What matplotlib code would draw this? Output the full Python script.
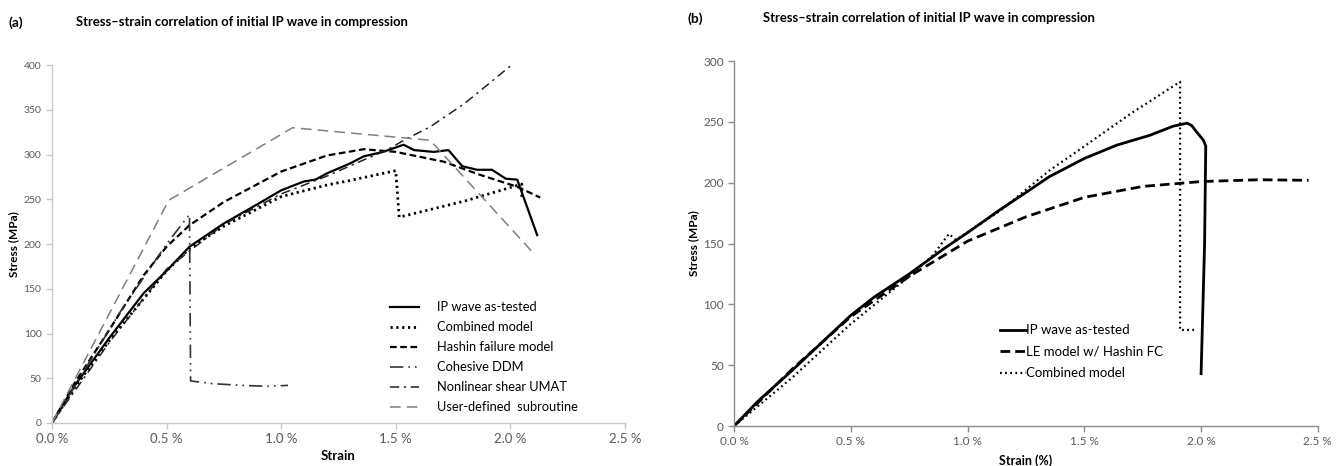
import matplotlib
matplotlib.use("Agg")
import matplotlib.pyplot as plt

plt.rcParams['font.family'] = ['Lato', 'DejaVu Sans']

# ---------------- Panel (a) data (strain in %, stress in MPa) ----------------
a_test_x = [0, 0.1, 0.25, 0.4, 0.5, 0.6, 0.75, 0.9, 1.0, 1.1, 1.15, 1.2, 1.3, 1.36, 1.445,
            1.534, 1.58, 1.665, 1.73, 1.79, 1.855, 1.92, 1.98, 2.03, 2.117]
a_test_y = [0, 42, 95, 145, 170, 197, 223, 245, 260, 270, 272, 279, 290, 298, 303,
            311, 305, 303, 305, 287, 283, 283, 273, 272, 210]

a_comb_x = [0, 0.1, 0.25, 0.5, 0.6, 0.75, 1.0, 1.2, 1.3, 1.5, 1.515, 1.8, 2.05, 2.05]
a_comb_y = [0, 40, 92, 170, 195, 220, 253, 266, 271, 282, 230, 248, 267, 250]

a_hash_x = [0, 0.1, 0.25, 0.4, 0.5, 0.6, 0.75, 1.0, 1.2, 1.36, 1.5, 1.71, 1.86, 2.03, 2.13]
a_hash_y = [0, 45, 104, 165, 197, 221, 247, 281, 299, 306, 303, 292, 278, 264, 252]

a_coh_x = [0, 0.3, 0.5, 0.6, 0.605, 0.7, 0.83, 0.94, 1.03]
a_coh_y = [0, 125, 200, 233, 47, 44, 42, 41, 42]

a_umat_x = [0, 0.25, 0.5, 0.75, 1.0, 1.2, 1.36, 1.46, 1.55, 1.65, 1.8, 1.91, 2.0]
a_umat_y = [0, 90, 172, 222, 256, 276, 294, 305, 318, 331, 357, 380, 399]

a_user_x = [0, 0.51, 1.05, 1.65, 2.1]
a_user_y = [0, 249, 330, 316, 190]

a_labels = ["IP wave as-tested", "Combined model", "Hashin failure model",
            "Cohesive DDM", "Nonlinear shear UMAT", "User-defined  subroutine"]

# ---------------- Panel (b) data ----------------
b_test_x = [0, 0.1, 0.25, 0.4, 0.5, 0.6, 0.75, 0.9, 1.0, 1.14, 1.25, 1.35, 1.5, 1.64,
            1.78, 1.88, 1.94, 1.96, 1.98, 2.01, 2.02, 2.015, 2.0]
b_test_y = [0, 20, 46, 73, 91, 106, 125, 146, 159, 178, 192, 205, 220, 231,
            239, 246.5, 249, 247, 242, 235, 230, 150, 43]

b_le_x = [0, 0.25, 0.5, 0.75, 1.0, 1.25, 1.5, 1.75, 2.0, 2.25, 2.46]
b_le_y = [0, 47, 90, 123, 152, 172, 188, 197, 201, 202.5, 202]

b_comb_x = [0, 0.25, 0.5, 0.75, 0.85, 0.92, 0.95, 1.14, 1.35, 1.5, 1.7, 1.91, 1.91, 1.97]
b_comb_y = [0, 40, 84, 123, 140, 158, 153, 177, 210, 230, 257, 283, 79, 79]

b_labels = ["IP wave as-tested", "LE model w/ Hashin FC", "Combined model"]

xticks = [0, 0.5, 1.0, 1.5, 2.0, 2.5]
xticklabels = [f"{v:.1f} %" for v in xticks]

title = "Stress\u2013strain correlation of initial IP wave in compression"

fig = plt.figure(figsize=(13.42, 4.66), dpi=100)

tick_col = "#595959"

def style(ax, spine_col):
    for s in ("top", "right"):
        ax.spines[s].set_visible(False)
    for s in ("left", "bottom"):
        ax.spines[s].set_color(spine_col)
        ax.spines[s].set_linewidth(1.0)
    ax.tick_params(colors=spine_col, labelcolor=tick_col, length=4, width=1.0)
    ax.set_facecolor("white")

# ---- (a)
axa = fig.add_axes([0.0387, 0.0923, 0.427, 0.768])
axa.plot(a_test_x, a_test_y, color="black", lw=1.6, label=a_labels[0])
axa.plot(a_comb_x, a_comb_y, color="black", lw=2.0, ls=(0, (0.8, 1.3)), label=a_labels[1])
axa.plot(a_hash_x, a_hash_y, color="black", lw=1.6, ls=(0, (3, 1.6)), label=a_labels[2])
axa.plot(a_coh_x, a_coh_y, color="#333333", lw=1.2, ls=(0, (8, 3, 1, 3, 1, 3)), label=a_labels[3])
axa.plot(a_umat_x, a_umat_y, color="#222222", lw=1.1, ls=(0, (6, 3, 1.5, 3)), label=a_labels[4])
axa.plot(a_user_x, a_user_y, color="#7f7f7f", lw=1.1, ls=(0, (7, 4)), label=a_labels[5])
axa.set_xlim(0, 2.5)
axa.set_ylim(0, 400)
axa.set_yticks(range(0, 401, 50))
axa.set_xticks(xticks)
axa.set_xticklabels(xticklabels, fontsize=9.5)
axa.tick_params(axis="y", labelsize=7.5)
style(axa, "#c8c8c8")
axa.set_ylabel("Stress (MPa)", fontsize=8.5, fontweight="bold", labelpad=3)
axa.set_xlabel("Strain", fontsize=9.5, fontweight="bold", labelpad=3)
axa.legend(loc="lower right", bbox_to_anchor=(0.938, -0.005), frameon=False,
           fontsize=9.3, handlelength=2.2, handletextpad=1.4, labelspacing=0.62)

# ---- (b)
axb = fig.add_axes([0.547, 0.0858, 0.435, 0.783])
axb.plot(b_test_x, b_test_y, color="black", lw=2.0, label=b_labels[0])
axb.plot(b_le_x, b_le_y, color="black", lw=2.0, ls=(0, (3.5, 1.8)), label=b_labels[1])
axb.plot(b_comb_x, b_comb_y, color="black", lw=1.6, ls=(0, (0.8, 1.5)), label=b_labels[2])
axb.set_xlim(0, 2.5)
axb.set_ylim(0, 300)
axb.set_yticks(range(0, 301, 50))
axb.set_xticks(xticks)
axb.set_xticklabels(xticklabels, fontsize=8.5)
axb.tick_params(axis="y", labelsize=8.5)
style(axb, "#8c8c8c")
axb.set_ylabel("Stress (MPa)", fontsize=8.5, fontweight="bold", labelpad=3)
axb.set_xlabel("Strain (%)", fontsize=9, fontweight="bold", labelpad=5)
axb.legend(loc="lower left", bbox_to_anchor=(0.435, 0.095), frameon=False,
           fontsize=9.5, handlelength=2.0, handletextpad=0.0, labelspacing=0.72)

# ---- titles
fig.text(0.006, 0.952, "(a)", fontsize=10, fontweight="bold", ha="left", va="center")
fig.text(0.180, 0.952, title, fontsize=9.4, fontweight="bold", ha="center", va="center")
fig.text(0.512, 0.961, "(b)", fontsize=10, fontweight="bold", ha="left", va="center")
fig.text(0.692, 0.961, title, fontsize=9.4, fontweight="bold", ha="center", va="center")

fig.savefig("out.png", dpi=100, facecolor="white")
